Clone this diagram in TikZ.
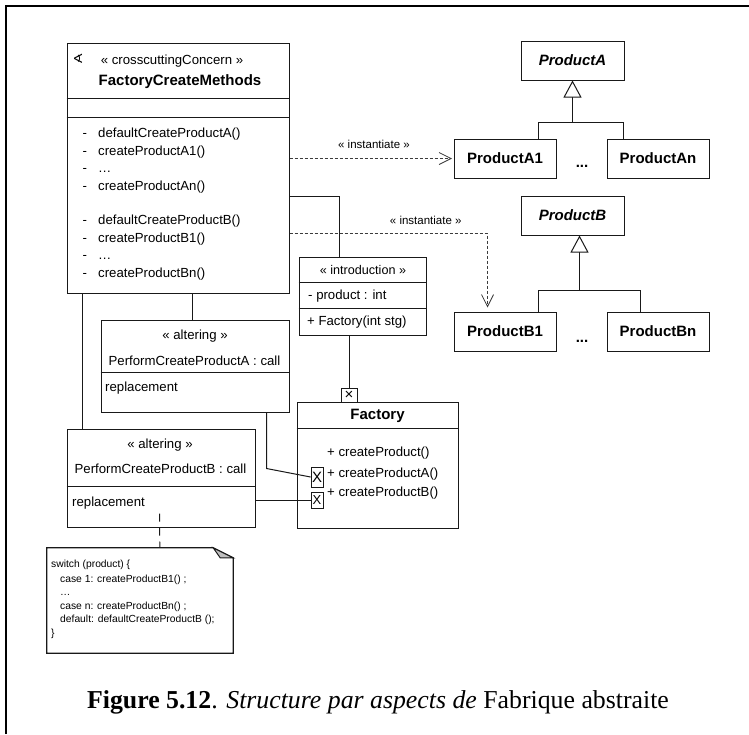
\documentclass[tikz,border=0pt]{standalone}
\usepackage{fontspec}
\setmainfont{Liberation Serif}
\setsansfont{Liberation Sans}
\newfontfamily\symfont{DejaVu Sans}
\usepackage{tikz}
\usetikzlibrary{calc, positioning, arrows.meta, fit}
\usepackage{xcolor}
\definecolor{umlline}{RGB}{25, 25, 25}
\definecolor{depline}{RGB}{60, 60, 60}
\definecolor{notefold}{RGB}{190, 190, 190}
\newcommand{\fsz}[1]{\fontsize{#1}{#1}\selectfont}

\begin{document}
\begin{tikzpicture}[x=1pt, y=-1pt, font=\sffamily\fsz{13.2},
  box/.style={draw=umlline, line width=1pt, inner sep=0pt},
  pbox/.style={box, font=\sffamily\bfseries\fsz{15}, minimum width=102pt, minimum height=39pt},
  xbox/.style={box, line width=0.9pt, minimum width=12pt, font=\sffamily\fsz{13}},
  link/.style={draw=umlline, line width=1pt},
  dep/.style={draw=depline, line width=0.8pt, dash pattern=on 3pt off 2pt,
    -{Straight Barb[length=12pt, width=12pt]}},
  gen/.style={link, -{Triangle[length=17pt, width=18pt, fill=white]}},
  txt/.style={inner sep=0pt, anchor=base},
  ltxt/.style={inner sep=0pt, anchor=base west}]
  \useasboundingbox (0,0) rectangle (749,734);
  \draw[line width=2.4pt, line join=miter] (6,734) -- (6,6) -- (749,6);

  % aspect with the creation methods
  \node[box, fit={(67,43) (289,293)}] (fcm) {};
  \draw[link] ($(fcm.north west)+(0,56)$) -- ($(fcm.north east)+(0,56)$);
  \draw[link] ($(fcm.north west)+(0,75)$) -- ($(fcm.north east)+(0,75)$);
  \node[inner sep=0pt, font=\symfont\fsz{13}] (fcmIcon) at (78,59) {∢};
  \node[txt] (fcmStereo) at (172,64) {« crosscuttingConcern »};
  \node[txt, font=\sffamily\bfseries\fsz{15}] (fcmName) at (180,85) {FactoryCreateMethods};
  \node[ltxt] (mA0) at (82.5,137.5) {\makebox[15.5pt][l]{-}defaultCreateProductA()};
  \node[ltxt] (mA1) at (82.5,155) {\makebox[15.5pt][l]{-}createProductA1()};
  \node[ltxt] (mA2) at (82.5,172.5) {\makebox[15.5pt][l]{-}…};
  \node[ltxt] (mAn) at (82.5,190) {\makebox[15.5pt][l]{-}createProductAn()};
  \node[ltxt] (mB0) at (82.5,224.5) {\makebox[15.5pt][l]{-}defaultCreateProductB()};
  \node[ltxt] (mB1) at (82.5,242) {\makebox[15.5pt][l]{-}createProductB1()};
  \node[ltxt] (mB2) at (82.5,259.5) {\makebox[15.5pt][l]{-}…};
  \node[ltxt] (mBn) at (82.5,277) {\makebox[15.5pt][l]{-}createProductBn()};

  % product hierarchies
  \node[pbox, minimum width=103pt] (pa) at (572.5,60.5) {\itshape ProductA};
  \node[pbox] (pa1) at (505,158.5) {ProductA1};
  \node[pbox] (pan) at (658,158.5) {ProductAn};
  \node[txt, font=\sffamily\bfseries\fsz{15}] (dotsA) at (582,167.5) {...};
  \node[pbox, minimum width=103pt] (pb) at (572.5,215.5) {\itshape ProductB};
  \node[pbox] (pb1) at (505,331.5) {ProductB1};
  \node[pbox] (pbn) at (658,331.5) {ProductBn};
  \node[txt, font=\sffamily\bfseries\fsz{15}] (dotsB) at (582,342) {...};

  \coordinate (ja) at ($(pa.south)+(0,42)$);
  \draw[link] ($(pa1.north west)+(85,0)$) |- (ja) -| ($(pan.north west)+(17,0)$);
  \draw[gen] (ja) -- (pa.south);
  \coordinate (jb) at ($(pb.south)+(7,55)$);
  \draw[link] ($(pb1.north west)+(85,0)$) |- (jb) -| ($(pbn.north west)+(34,0)$);
  \draw[gen] (jb) -- (pb.south -| jb);

  % introduction
  \node[box, fit={(299,257) (426,335)}] (intro) {};
  \draw[link] ($(intro.north west)+(0,26)$) -- ($(intro.north east)+(0,26)$);
  \draw[link] ($(intro.north west)+(0,52)$) -- ($(intro.north east)+(0,52)$);
  \node[txt, font=\sffamily\fsz{12.6}] (introStereo) at (363,274.5) {« introduction »};
  \node[ltxt] (introAttr) at (308,299) {- product : int};
  \node[ltxt] (introOp) at (307,325.5) {+ Factory(int stg)};

  % target class
  \node[box, fit={(297,402) (458,528)}] (factory) {};
  \draw[link] ($(factory.north west)+(0,27)$) -- ($(factory.north east)+(0,27)$);
  \node[font=\sffamily\bfseries\fsz{15}, inner sep=0pt] (factoryName) at (377.5,416) {Factory};
  \node[ltxt] (fOp) at (327,456.5) {+ createProduct()};
  \node[ltxt] (fOpA) at (327,477) {+ createProductA()};
  \node[ltxt] (fOpB) at (327,496.5) {+ createProductB()};
  \node[xbox, minimum width=16pt, minimum height=14pt, font=\sffamily\fsz{15}] (xtop) at (349,395) {×};
  \node[xbox, minimum height=20pt, font=\sffamily\fsz{15}] (xA) at (317,477) {X};
  \node[xbox, minimum height=16pt] (xB) at (317,500) {X};

  % altering advices
  \node[box, fit={(101,320) (289,412)}] (alterA) {};
  \draw[link] ($(alterA.north west)+(0,53)$) -- ($(alterA.north east)+(0,53)$);
  \node[txt] (alterAStereo) at (195,339) {« altering »};
  \node[txt] (alterAName) at (194.5,365) {PerformCreateProductA : call};
  \node[ltxt] (alterARepl) at (105,391) {replacement};

  \node[box, fit={(67,429) (255,527)}] (alterB) {};
  \draw[link] ($(alterB.north west)+(0,58)$) -- ($(alterB.north east)+(0,58)$);
  \node[txt] (alterBStereo) at (160,448) {« altering »};
  \node[txt] (alterBName) at (160.5,473) {PerformCreateProductB : call};
  \node[ltxt] (alterBRepl) at (72,506) {replacement};

  % note
  \node[inner sep=0pt, fit={(47,548) (233,653)}] (note) {};
  \draw[link, line width=1.2pt] (note.north west) -- ($(note.north east)+(-20,0)$)
    -- ($(note.north east)+(0,10)$) -- (note.south east) -- (note.south west) -- cycle;
  \draw[link, fill=notefold] ($(note.north east)+(-20,0)$) -- ($(note.north east)+(-13,10)$)
    -- ($(note.north east)+(0,10)$) -- cycle;
  \node[ltxt, font=\sffamily\fsz{10.3}] (n1) at (51,567.5) {switch (product) \{};
  \node[ltxt, font=\sffamily\fsz{10.3}] (n2) at (60,582.5) {case 1: createProductB1() ;};
  \node[ltxt, font=\sffamily\fsz{10.3}] (n3) at (60,595.5) {…};
  \node[ltxt, font=\sffamily\fsz{10.3}] (n4) at (60,609.5) {case n: createProductBn() ;};
  \node[ltxt, font=\sffamily\fsz{10.3}] (n5) at (60,622.5) {default: defaultCreateProductB ();};
  \node[ltxt, font=\sffamily\fsz{10.3}] (n6) at (51,636.5) {\}};

  % connectors
  \coordinate (aAtop) at ($(alterA.north west)+(92,0)$);
  \coordinate (aBtop) at ($(alterB.north west)+(16,0)$);
  \draw[link] (fcm.south -| aAtop) -- (aAtop);
  \draw[link] (fcm.south -| aBtop) -- (aBtop);
  \draw[link] ($(fcm.north east)+(0,154)$) -| ($(intro.north west)+(41,0)$);
  \draw[link] (intro.south -| xtop) -- (xtop.north);
  \draw[link] ($(alterA.south west)+(166,0)$) -- ++(0,56) -- (xA.west);
  \draw[link] (alterB.east |- xB.west) -- (xB.west);
  \draw[link, dash pattern=on 8pt off 6pt] ($(alterB.south west)+(93,-14)$) -- ($(note.north west)+(113,0)$);

  \draw[dep, shorten >=1.5pt] (fcm.east |- pa1.west) -- (pa1.west)
    node[pos=0.515, anchor=base, yshift=10pt, font=\sffamily\fsz{11.5}, text=black] {« instantiate »};
  \draw[dep, shorten >=4pt] ($(fcm.north east)+(0,191)$) -| ($(pb1.north west)+(34,0)$)
    node[pos=0.344, anchor=base, yshift=9pt, font=\sffamily\fsz{11.5}, text=black] {« instantiate »};

  \node[txt, font=\rmfamily\fsz{25.8}] (caption) at (378,708)
    {\textbf{Figure 5.12}. \textit{Structure par aspects de} Fabrique abstraite};
\end{tikzpicture}
\end{document}
